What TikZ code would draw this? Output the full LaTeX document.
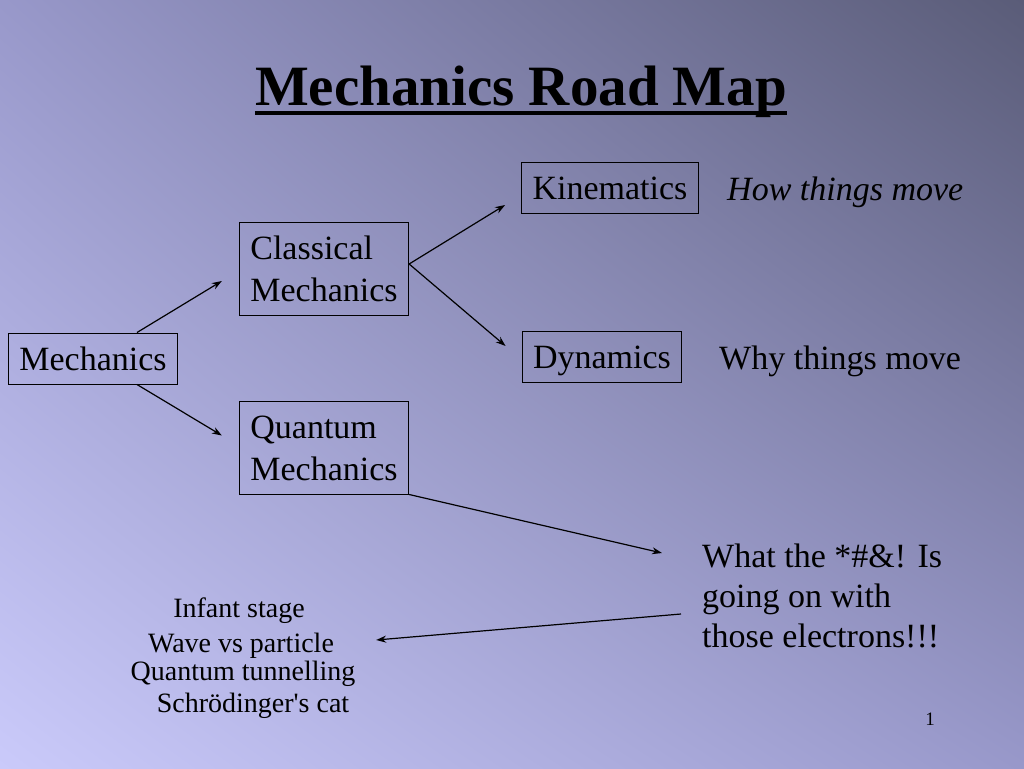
\documentclass[tikz,border=0pt]{standalone}
\usepackage{fontspec}
\setmainfont{Liberation Serif}
\usetikzlibrary{arrows.meta, shadings}
\definecolor{slideDark}{RGB}{90, 92, 120}
\definecolor{slideMid}{RGB}{152, 152, 202}
\definecolor{slideLight}{RGB}{202, 202, 250}

\tikzset{
  topic/.style={draw, line width=1pt, inner xsep=11pt, inner ysep=9pt,
    text height=28pt, text depth=5pt, font=\fontsize{34}{42}\selectfont, align=left},
  twoline/.style={text height=70pt},
  note/.style={inner sep=0pt, font=\fontsize{34}{40}\selectfont},
  stage/.style={inner sep=0pt, font=\fontsize{28}{32}\selectfont},
  link/.style={line width=1.2pt, -{Stealth[length=10pt, width=7pt]}}
}

\begin{document}
\begin{tikzpicture}[x=1pt, y=-1pt]
  % background
  \shade[upper left=slideMid, upper right=slideDark, lower left=slideLight, lower right=slideMid]
    (0,0) rectangle (1024,768);
  \useasboundingbox (0,0) rectangle (1024,768);

  % title
  \node[inner sep=0pt, font=\fontsize{57}{60}\bfseries, anchor=base] (title) at (521,105) {Mechanics Road Map};
  \draw[line width=4pt] ([yshift=-8pt]title.base west) -- ([yshift=-8pt]title.base east);

  % road map
  \node[topic] (mech) at (93,358.5) {Mechanics};
  \node[topic, twoline] (cm) at (324,269) {Classical\\Mechanics};
  \node[topic, twoline] (qm) at (324,447.5) {Quantum\\Mechanics};
  \node[topic] (kin) at (610,188) {Kinematics};
  \node[topic] (dyn) at (602,357) {Dynamics};

  \node[note, anchor=west, font=\fontsize{34}{40}\itshape] (how) at (727,192) {How things move};
  \node[note, anchor=west] (why) at (719,361) {Why things move};
  \node[note, anchor=north west, align=left] (elec) at (702,544) {What the *\#\&! Is\\going on with\\those electrons!!!};

  % quantum stages
  \node[stage] (infant) at (239,611) {Infant stage};
  \node[stage] (wave) at (241,646) {Wave vs particle};
  \node[stage] (tunnel) at (243,674) {Quantum tunnelling};
  \node[stage] (cat) at (253,706) {Schrödinger\textquotesingle s cat};

  \node[inner sep=0pt, font=\fontsize{19}{22}\selectfont] (page) at (930,719) {1};

  % connectors
  \draw[link] ([xshift=44pt]mech.north) -- ([xshift=-17pt, yshift=-12pt]cm.west);
  \draw[link] ([xshift=44pt]mech.south) -- ([xshift=-17pt, yshift=12pt]qm.west);
  \draw[link] ([yshift=5pt]cm.east) -- ([xshift=-16pt, yshift=-17pt]kin.west);
  \draw[link] ([yshift=5pt]cm.east) -- ([xshift=-16pt, yshift=11pt]dyn.west);
  \draw[link] (qm.south east) -- ([xshift=-40pt, yshift=-9pt]elec.north west);
  \draw[link] ([xshift=-21pt, yshift=-70pt]elec.north west) -- ([xshift=42pt, yshift=6pt]wave.east);
\end{tikzpicture}
\end{document}
